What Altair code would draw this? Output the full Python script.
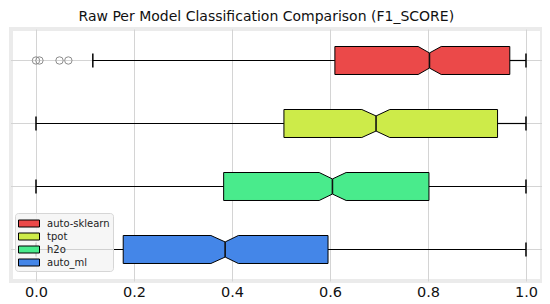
import altair as alt
import pandas as pd

models = ["auto-sklearn", "tpot", "h2o", "auto_ml"]
colors = ["#eb4949", "#cdeb49", "#49eb8c", "#4486e8"]
whisker_low = [0.116, 0.0, 0.0, 0.0]
q1 = [0.610, 0.506, 0.383, 0.178]
median = [0.803, 0.694, 0.605, 0.386]
q3 = [0.967, 0.942, 0.802, 0.596]
whisker_high = [1.0, 1.0, 1.0, 1.0]
notch_lo = [0.780, 0.665, 0.578, 0.357]
notch_hi = [0.827, 0.722, 0.633, 0.413]
outlier_model = ["auto-sklearn", "auto-sklearn", "auto-sklearn", "auto-sklearn"]
outlier_values = [0.0, 0.007, 0.048, 0.066]
x_ticks = [0.0, 0.2, 0.4, 0.6, 0.8, 1.0]

BOX_H = 0.222
NOTCH_H = 0.12
CAP_H = 0.111

pos = {m: i + 0.5 for i, m in enumerate(models)}

# box polygons
rows = []
for i, m in enumerate(models):
    c = pos[m]
    for xv, h in zip([q1[i], notch_lo[i], median[i], notch_hi[i], q3[i]],
                     [BOX_H, BOX_H, NOTCH_H, BOX_H, BOX_H]):
        rows.append({"model": m, "x": xv, "y": c - h, "y2": c + h})
box_df = pd.DataFrame(rows)

stat_df = pd.DataFrame({
    "model": models,
    "c": [pos[m] for m in models],
    "lo": whisker_low, "q1": q1, "med": median, "q3": q3, "hi": whisker_high,
})
stat_df["cap_top"] = stat_df["c"] - CAP_H
stat_df["cap_bot"] = stat_df["c"] + CAP_H
stat_df["n_top"] = stat_df["c"] - NOTCH_H
stat_df["n_bot"] = stat_df["c"] + NOTCH_H

out_df = pd.DataFrame({"model": outlier_model, "v": outlier_values})
out_df["c"] = out_df["model"].map(pos)

xscale = alt.Scale(domain=[-0.051, 1.0327], nice=False, zero=False)
yscale = alt.Scale(domain=[0, 4], reverse=True, nice=False, zero=False)

xaxis = alt.Axis(values=x_ticks, format=".1f", grid=True, gridColor="#d4d4d4",
                 gridWidth=1, ticks=False, domain=False, labelFontSize=14.5,
                 labelFont="DejaVu Sans", labelColor="#111", labelPadding=4,
                 title=None)

base_stat = alt.Chart(stat_df)

hgrid = base_stat.mark_rule(color="#d4d4d4", strokeWidth=1).encode(
    y=alt.Y("c:Q", scale=yscale, axis=None)
)

whisk_l = base_stat.mark_rule(color="black", strokeWidth=1.2).encode(
    x=alt.X("lo:Q", scale=xscale, axis=xaxis), x2="q1:Q",
    y=alt.Y("c:Q", scale=yscale, axis=None)
)
whisk_r = base_stat.mark_rule(color="black", strokeWidth=1.2).encode(
    x=alt.X("q3:Q", scale=xscale, axis=xaxis), x2="hi:Q",
    y=alt.Y("c:Q", scale=yscale, axis=None)
)
cap_l = base_stat.mark_rule(color="black", strokeWidth=1.5).encode(
    x=alt.X("lo:Q", scale=xscale, axis=xaxis),
    y=alt.Y("cap_top:Q", scale=yscale, axis=None), y2="cap_bot:Q"
)
cap_r = base_stat.mark_rule(color="black", strokeWidth=1.5).encode(
    x=alt.X("hi:Q", scale=xscale, axis=xaxis),
    y=alt.Y("cap_top:Q", scale=yscale, axis=None), y2="cap_bot:Q"
)

boxes = alt.Chart(box_df).mark_area(
    orient="vertical", stroke="black", strokeWidth=1, opacity=1, fillOpacity=1,
    interpolate="linear"
).encode(
    x=alt.X("x:Q", scale=xscale, axis=xaxis),
    y=alt.Y("y:Q", scale=yscale, axis=None), y2="y2:Q",
    color=alt.Color("model:N", scale=alt.Scale(domain=models, range=colors),
                    legend=alt.Legend(title=None, orient="none", legendX=4, legendY=184,
                                      symbolType="M-1,-0.5H2V0.5H-1Z",
                                      symbolSize=196, symbolStrokeColor="black",
                                      symbolStrokeWidth=1, symbolOpacity=1,
                                      padding=3, fillColor="rgba(244,244,244,0.85)",
                                      strokeColor="#d6d6d6", cornerRadius=3,
                                      labelFontSize=10, labelFont="DejaVu Sans",
                                      labelColor="#222", rowPadding=0, labelOffset=14)),
    detail="model:N",
)

med = base_stat.mark_rule(color="#111", strokeWidth=1.6).encode(
    x=alt.X("med:Q", scale=xscale, axis=xaxis),
    y=alt.Y("n_top:Q", scale=yscale, axis=None), y2="n_bot:Q"
)

outl = alt.Chart(out_df).mark_point(
    shape="circle", filled=False, color="#8c8c8c", size=55, strokeWidth=1, opacity=1
).encode(
    x=alt.X("v:Q", scale=xscale, axis=xaxis),
    y=alt.Y("c:Q", scale=yscale, axis=None),
)

chart = alt.layer(hgrid, whisk_l, whisk_r, cap_l, cap_r, boxes, med, outl).properties(
    width=531, height=252,
    background="white",
    title=alt.TitleParams("Raw Per Model Classification Comparison (F1_SCORE)",
                          anchor="start", dx=68, fontSize=14, font="DejaVu Sans",
                          fontWeight="normal", color="#111", offset=5),
    autosize=alt.AutoSizeParams(type="none"),
    padding={"left": 3, "top": 21, "right": 0, "bottom": 23},
).configure_view(
    stroke="#ebebeb", strokeWidth=4
)

chart.save("out.html", embed_options={"renderer": "svg", "actions": False})
